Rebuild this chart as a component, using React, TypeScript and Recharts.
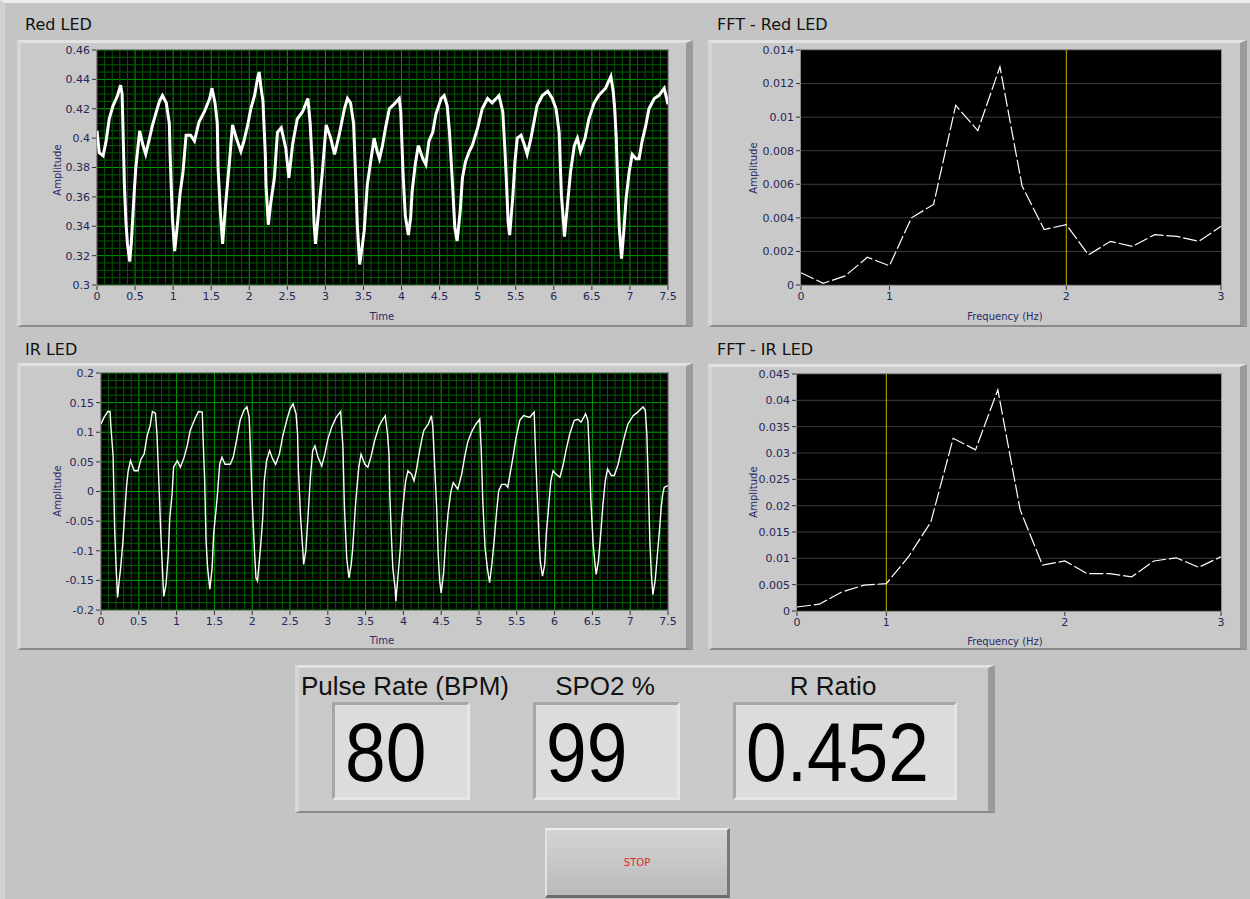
import React from 'react';
import { LineChart, Line, XAxis, YAxis, CartesianGrid, ReferenceLine } from 'recharts';

// ---- Red LED, time domain (s, amplitude) ----
const redTime = [0, 0.03, 0.08, 0.12, 0.16, 0.21, 0.27, 0.31, 0.33, 0.35, 0.36, 0.38, 0.4, 0.43, 0.45, 0.47, 0.49, 0.51, 0.56, 0.6, 0.64, 0.69, 0.73, 0.78, 0.82, 0.86, 0.91, 0.95, 0.96, 0.99, 1.02, 1.06, 1.09, 1.13, 1.17, 1.23, 1.28, 1.34, 1.41, 1.48, 1.51, 1.55, 1.58, 1.59, 1.62, 1.65, 1.69, 1.74, 1.78, 1.83, 1.89, 1.93, 1.98, 2.02, 2.07, 2.11, 2.13, 2.15, 2.18, 2.21, 2.22, 2.25, 2.28, 2.33, 2.37, 2.42, 2.48, 2.52, 2.57, 2.63, 2.7, 2.77, 2.8, 2.83, 2.85, 2.87, 2.92, 2.96, 3.01, 3.07, 3.12, 3.18, 3.25, 3.29, 3.33, 3.37, 3.4, 3.42, 3.45, 3.48, 3.51, 3.55, 3.6, 3.64, 3.68, 3.71, 3.75, 3.79, 3.84, 3.9, 3.97, 3.99, 4.01, 4.02, 4.05, 4.09, 4.12, 4.14, 4.18, 4.22, 4.28, 4.32, 4.36, 4.41, 4.45, 4.52, 4.56, 4.6, 4.63, 4.67, 4.7, 4.73, 4.77, 4.8, 4.84, 4.89, 4.93, 5.0, 5.06, 5.13, 5.19, 5.28, 5.33, 5.36, 5.38, 5.4, 5.42, 5.46, 5.49, 5.52, 5.57, 5.61, 5.65, 5.7, 5.74, 5.78, 5.85, 5.92, 5.98, 6.03, 6.07, 6.1, 6.13, 6.14, 6.18, 6.22, 6.27, 6.31, 6.35, 6.41, 6.46, 6.53, 6.59, 6.68, 6.75, 6.78, 6.8, 6.82, 6.84, 6.86, 6.89, 6.92, 6.95, 6.99, 7.03, 7.08, 7.12, 7.16, 7.21, 7.25, 7.32, 7.38, 7.45, 7.5];
const redAmp = [0.405, 0.39, 0.388, 0.398, 0.413, 0.422, 0.429, 0.436, 0.43, 0.389, 0.368, 0.343, 0.328, 0.316, 0.328, 0.346, 0.364, 0.38, 0.405, 0.396, 0.389, 0.4, 0.409, 0.418, 0.425, 0.429, 0.424, 0.41, 0.389, 0.346, 0.323, 0.343, 0.362, 0.377, 0.402, 0.402, 0.398, 0.411, 0.418, 0.427, 0.434, 0.424, 0.41, 0.38, 0.35, 0.328, 0.355, 0.384, 0.409, 0.4, 0.391, 0.398, 0.409, 0.42, 0.429, 0.441, 0.445, 0.436, 0.425, 0.39, 0.368, 0.341, 0.355, 0.373, 0.404, 0.407, 0.393, 0.373, 0.396, 0.413, 0.418, 0.427, 0.41, 0.38, 0.343, 0.328, 0.355, 0.377, 0.409, 0.4, 0.389, 0.402, 0.42, 0.427, 0.424, 0.41, 0.37, 0.34, 0.314, 0.325, 0.337, 0.368, 0.386, 0.4, 0.391, 0.386, 0.395, 0.407, 0.42, 0.423, 0.427, 0.418, 0.39, 0.376, 0.347, 0.334, 0.346, 0.364, 0.382, 0.395, 0.386, 0.382, 0.398, 0.404, 0.416, 0.427, 0.429, 0.422, 0.404, 0.368, 0.339, 0.33, 0.35, 0.373, 0.384, 0.391, 0.395, 0.407, 0.42, 0.427, 0.424, 0.429, 0.418, 0.39, 0.368, 0.343, 0.334, 0.359, 0.384, 0.4, 0.402, 0.396, 0.389, 0.4, 0.411, 0.422, 0.429, 0.432, 0.427, 0.42, 0.404, 0.361, 0.341, 0.333, 0.355, 0.377, 0.395, 0.4, 0.391, 0.4, 0.413, 0.424, 0.429, 0.434, 0.442, 0.432, 0.42, 0.4, 0.368, 0.339, 0.318, 0.337, 0.359, 0.377, 0.389, 0.386, 0.386, 0.398, 0.409, 0.42, 0.427, 0.429, 0.434, 0.423];
const redYTicks = [0.3, 0.32, 0.34, 0.36, 0.38, 0.4, 0.42, 0.44, 0.46];

// ---- IR LED, time domain ----
const irTime = [0, 0.04, 0.09, 0.12, 0.13, 0.16, 0.18, 0.2, 0.22, 0.24, 0.26, 0.29, 0.31, 0.34, 0.36, 0.39, 0.44, 0.49, 0.53, 0.57, 0.61, 0.65, 0.68, 0.72, 0.74, 0.77, 0.79, 0.82, 0.83, 0.86, 0.89, 0.91, 0.94, 0.96, 1.01, 1.05, 1.1, 1.14, 1.18, 1.25, 1.29, 1.34, 1.35, 1.37, 1.39, 1.41, 1.44, 1.47, 1.49, 1.52, 1.54, 1.57, 1.6, 1.64, 1.71, 1.75, 1.8, 1.84, 1.89, 1.93, 1.96, 1.98, 2.0, 2.03, 2.05, 2.07, 2.11, 2.14, 2.16, 2.19, 2.23, 2.27, 2.31, 2.36, 2.4, 2.46, 2.5, 2.54, 2.58, 2.6, 2.61, 2.64, 2.67, 2.68, 2.71, 2.74, 2.77, 2.8, 2.83, 2.87, 2.92, 2.96, 3.0, 3.05, 3.11, 3.17, 3.2, 3.22, 3.25, 3.28, 3.31, 3.33, 3.37, 3.41, 3.44, 3.49, 3.53, 3.57, 3.62, 3.68, 3.72, 3.76, 3.79, 3.81, 3.82, 3.84, 3.86, 3.89, 3.9, 3.93, 3.96, 3.98, 4.01, 4.03, 4.06, 4.11, 4.14, 4.17, 4.2, 4.24, 4.27, 4.33, 4.37, 4.39, 4.41, 4.44, 4.46, 4.48, 4.5, 4.53, 4.56, 4.59, 4.63, 4.66, 4.72, 4.77, 4.81, 4.85, 4.9, 4.96, 5.01, 5.03, 5.05, 5.08, 5.11, 5.14, 5.17, 5.2, 5.23, 5.26, 5.3, 5.35, 5.38, 5.41, 5.45, 5.49, 5.54, 5.59, 5.67, 5.73, 5.75, 5.77, 5.79, 5.81, 5.84, 5.87, 5.89, 5.92, 5.95, 5.98, 6.02, 6.07, 6.11, 6.15, 6.2, 6.26, 6.31, 6.35, 6.41, 6.44, 6.46, 6.48, 6.51, 6.53, 6.55, 6.58, 6.61, 6.64, 6.67, 6.7, 6.75, 6.79, 6.84, 6.88, 6.92, 6.97, 7.04, 7.1, 7.17, 7.2, 7.22, 7.24, 7.26, 7.28, 7.3, 7.33, 7.36, 7.39, 7.41, 7.43, 7.45, 7.5];
const irAmp = [0.114, 0.125, 0.135, 0.135, 0.111, 0.06, -0.061, -0.129, -0.179, -0.151, -0.129, -0.084, -0.044, 0.012, 0.035, 0.052, 0.035, 0.035, 0.055, 0.063, 0.094, 0.111, 0.135, 0.132, 0.097, 0.001, -0.067, -0.151, -0.177, -0.157, -0.106, -0.044, -0.005, 0.041, 0.052, 0.041, 0.058, 0.077, 0.103, 0.125, 0.135, 0.134, 0.091, 0.024, -0.084, -0.129, -0.165, -0.129, -0.072, -0.033, -0.005, 0.046, 0.058, 0.046, 0.046, 0.058, 0.091, 0.12, 0.137, 0.143, 0.125, 0.058, -0.016, -0.1, -0.146, -0.151, -0.095, -0.044, 0.018, 0.052, 0.069, 0.055, 0.046, 0.063, 0.091, 0.122, 0.139, 0.148, 0.131, 0.097, 0.041, -0.044, -0.1, -0.123, -0.1, -0.038, 0.024, 0.069, 0.077, 0.058, 0.043, 0.063, 0.088, 0.108, 0.125, 0.135, 0.074, -0.027, -0.112, -0.146, -0.123, -0.095, -0.016, 0.041, 0.063, 0.046, 0.041, 0.058, 0.086, 0.111, 0.12, 0.128, 0.097, 0.063, -0.005, -0.072, -0.129, -0.163, -0.185, -0.14, -0.095, -0.044, -0.005, 0.018, 0.035, 0.029, 0.018, 0.035, 0.058, 0.086, 0.103, 0.114, 0.128, 0.108, 0.052, -0.027, -0.106, -0.151, -0.171, -0.14, -0.084, -0.038, 0.001, 0.015, 0.004, 0.029, 0.058, 0.083, 0.1, 0.114, 0.122, 0.069, -0.016, -0.095, -0.129, -0.154, -0.123, -0.084, -0.038, 0.001, 0.012, 0.012, 0.007, 0.029, 0.058, 0.091, 0.12, 0.128, 0.125, 0.134, 0.058, -0.005, -0.067, -0.117, -0.143, -0.123, -0.072, -0.027, 0.018, 0.035, 0.029, 0.024, 0.043, 0.069, 0.097, 0.12, 0.122, 0.117, 0.131, 0.12, 0.063, -0.016, -0.089, -0.117, -0.14, -0.117, -0.072, -0.021, 0.018, 0.038, 0.027, 0.027, 0.046, 0.069, 0.091, 0.114, 0.128, 0.134, 0.143, 0.137, 0.097, 0.012, -0.084, -0.14, -0.174, -0.151, -0.106, -0.061, -0.027, -0.005, 0.007, 0.01];
const irYTicks = [-0.2, -0.15, -0.1, -0.05, 0, 0.05, 0.1, 0.15, 0.2];

const timeTicks = [0, 0.5, 1, 1.5, 2, 2.5, 3, 3.5, 4, 4.5, 5, 5.5, 6, 6.5, 7, 7.5];

// ---- FFT spectra (20 bins) ----
const fftFreq = [0, 0.158, 0.316, 0.474, 0.632, 0.789, 0.947, 1.105, 1.263, 1.421, 1.579, 1.737, 1.895, 2.053, 2.211, 2.368, 2.526, 2.684, 2.842, 3.0];
const fftRedAmp = [0.00073, 0.0001, 0.00054, 0.00165, 0.00115, 0.004, 0.0048, 0.0107, 0.0092, 0.013, 0.0059, 0.0033, 0.0036, 0.0018, 0.0026, 0.0023, 0.003, 0.0029, 0.0026, 0.0035];
const fftIrAmp = [0.00076, 0.0013, 0.0036, 0.0049, 0.0052, 0.0103, 0.0169, 0.0328, 0.0306, 0.042, 0.0192, 0.0087, 0.0095, 0.0071, 0.0071, 0.0065, 0.0095, 0.0101, 0.0083, 0.0103];
const fftRedYTicks = [0, 0.002, 0.004, 0.006, 0.008, 0.01, 0.012, 0.014];
const fftIrYTicks = [0, 0.005, 0.01, 0.015, 0.02, 0.025, 0.03, 0.035, 0.04, 0.045];
const fftTickPos = [0, 0.632, 1.895, 3];
const fftTickLabels = ['0', '1', '2', '3'];
const redCursor = 1.895;
const irCursor = 0.632;

const readoutLabels = ['Pulse Rate (BPM)', 'SPO2 %', 'R Ratio'];
const readoutValues = ['80', '99', '0.452'];

const TICK = { fill: '#26265a', fontSize: 11, fontFamily: 'DejaVu Sans' };
const Y_W = 60;
const X_H = 24;

function minorSteps(lo: number, hi: number, step: number, every: number) {
  const out: number[] = [];
  const n = Math.round((hi - lo) / step);
  for (let i = 1; i < n; i++) if (i % every !== 0) out.push(+(lo + i * step).toFixed(6));
  return out;
}

type Box = { left: number; top: number; width: number; height: number };
type Plot = { x0: number; y0: number; x1: number; y1: number };

function marginsFor(box: Box, plot: Plot) {
  return {
    top: plot.y0 - box.top,
    right: box.left + box.width - plot.x1,
    left: plot.x0 - box.left - Y_W,
    bottom: box.top + box.height - plot.y1 - X_H,
  };
}

function Frame({ box }: { box: Box }) {
  return (
    <div
      style={{
        position: 'absolute', left: box.left, top: box.top, width: box.width, height: box.height,
        boxSizing: 'border-box', background: '#c9c9c9',
        borderTop: '3px solid #e2e2e2', borderLeft: '4px solid #d6d6d6',
        borderRight: '7px solid #9a9a9a', borderBottom: '2px solid #8a8a8a',
      }}
    />
  );
}

function PlotBorder({ plot }: { plot: Plot }) {
  return (
    <div
      style={{
        position: 'absolute', left: plot.x0 - 1, top: plot.y0 - 1,
        width: plot.x1 - plot.x0, height: plot.y1 - plot.y0,
        border: '1px solid #8e8e8e', pointerEvents: 'none',
      }}
    />
  );
}

function AxisTitle({ text, cx, cy, rotate }: { text: string; cx: number; cy: number; rotate?: boolean }) {
  return (
    <div
      style={{
        position: 'absolute', left: cx, top: cy, whiteSpace: 'nowrap',
        transform: `translate(-50%, -50%)${rotate ? ' rotate(-90deg)' : ''}`,
        fontSize: 10, color: '#2a2a66', fontFamily: 'DejaVu Sans',
      }}
    >
      {text}
    </div>
  );
}

function TimeScope({ box, plot, time, amp, yTicks, minorY, width }: {
  box: Box; plot: Plot; time: number[]; amp: number[]; yTicks: number[]; minorY: number[]; width: number;
}) {
  const data = time.map((t, i) => ({ t, v: amp[i] }));
  const minorX = minorSteps(0, 7.5, 0.1, 5);
  const yDomain = [yTicks[0], yTicks[yTicks.length - 1]];
  return (
    <div style={{ position: 'absolute', left: box.left, top: box.top }}>
      <LineChart width={box.width} height={box.height} data={data} margin={marginsFor(box, plot)}>
        <CartesianGrid stroke="#00a000" fill="#000000" fillOpacity={1} />
        {minorX.map((x) => (
          <ReferenceLine key={'x' + x} x={x} stroke="#005c00" strokeWidth={1} />
        ))}
        {minorY.map((y) => (
          <ReferenceLine key={'y' + y} y={y} stroke="#005c00" strokeWidth={1} />
        ))}
        <XAxis
          dataKey="t" type="number" domain={[0, 7.5]} ticks={timeTicks} interval={0}
          height={X_H} axisLine={false} tickSize={5} tickLine={{ stroke: '#333' }}
          tick={TICK} tickFormatter={(v) => String(v)} allowDataOverflow
        />
        <YAxis
          type="number" domain={yDomain} ticks={yTicks} interval={0} width={Y_W}
          axisLine={false} tickSize={5} tickLine={{ stroke: '#333' }}
          tick={TICK} tickFormatter={(v) => String(v)} allowDataOverflow
        />
        <Line
          type="linear" dataKey="v" stroke="#ffffff" strokeWidth={width}
          dot={false} isAnimationActive={false}
        />
      </LineChart>
    </div>
  );
}

function FftScope({ box, plot, amp, yTicks, cursor }: {
  box: Box; plot: Plot; amp: number[]; yTicks: number[]; cursor: number;
}) {
  const data = fftFreq.map((f, i) => ({ f, a: amp[i] }));
  const yDomain = [yTicks[0], yTicks[yTicks.length - 1]];
  return (
    <div style={{ position: 'absolute', left: box.left, top: box.top }}>
      <LineChart width={box.width} height={box.height} data={data} margin={marginsFor(box, plot)}>
        <CartesianGrid stroke="#3c3c3c" fill="#000000" fillOpacity={1} vertical={false} />
        <XAxis
          dataKey="f" type="number" domain={[0, 3]} ticks={fftTickPos} interval={0}
          height={X_H} axisLine={false} tickSize={5} tickLine={{ stroke: '#333' }}
          tick={TICK} tickFormatter={(v) => fftTickLabels[fftTickPos.indexOf(v)] ?? ''}
        />
        <YAxis
          type="number" domain={yDomain} ticks={yTicks} interval={0} width={Y_W}
          axisLine={false} tickSize={5} tickLine={{ stroke: '#333' }}
          tick={TICK} tickFormatter={(v) => String(v)}
        />
        <ReferenceLine x={cursor} stroke="#c8b400" strokeWidth={1} />
        <Line
          type="linear" dataKey="a" stroke="#ffffff" strokeWidth={1.2} strokeDasharray="14 3"
          dot={false} isAnimationActive={false}
        />
      </LineChart>
    </div>
  );
}

const title: React.CSSProperties = {
  position: 'absolute', fontSize: 16, lineHeight: '20px', color: '#111', fontFamily: 'DejaVu Sans',
};

export default function App() {
  const redBox = { left: 17, top: 40, width: 676, height: 287 };
  const redPlot = { x0: 97, y0: 50, x1: 668, y1: 285 };
  const fftRedBox = { left: 708, top: 40, width: 539, height: 287 };
  const fftRedPlot = { x0: 801, y0: 50, x1: 1221, y1: 285 };
  const irBox = { left: 17, top: 363, width: 676, height: 287 };
  const irPlot = { x0: 101, y0: 373, x1: 668, y1: 610 };
  const fftIrBox = { left: 708, top: 364, width: 539, height: 286 };
  const fftIrPlot = { x0: 797, y0: 374, x1: 1221, y1: 611 };

  const boxX = [332, 533, 733];
  const boxW = [138, 147, 224];
  const labelCx = [405, 605, 833];

  return (
    <div
      style={{
        position: 'absolute', left: 0, top: 0, width: 1250, height: 899, overflow: 'hidden',
        background: '#c4c4c4', boxSizing: 'border-box',
        borderTop: '3px solid #ececec', borderLeft: '5px solid #d2d2d2',
        fontFamily: 'DejaVu Sans, sans-serif',
      }}
    >
      <div style={{ position: 'absolute', left: -5, top: -3, width: 1250, height: 899 }}>
        <div style={{ ...title, left: 25, top: 15 }}>Red LED</div>
        <div style={{ ...title, left: 717, top: 15 }}>FFT - Red LED</div>
        <div style={{ ...title, left: 25, top: 340 }}>IR LED</div>
        <div style={{ ...title, left: 717, top: 340 }}>FFT - IR LED</div>

        <Frame box={redBox} />
        <Frame box={fftRedBox} />
        <Frame box={irBox} />
        <Frame box={fftIrBox} />

        <TimeScope box={redBox} plot={redPlot} time={redTime} amp={redAmp} yTicks={redYTicks}
          minorY={minorSteps(0.3, 0.46, 0.005, 4)} width={3} />
        <TimeScope box={irBox} plot={irPlot} time={irTime} amp={irAmp} yTicks={irYTicks}
          minorY={minorSteps(-0.2, 0.2, 0.0125, 4)} width={1.4} />
        <FftScope box={fftRedBox} plot={fftRedPlot} amp={fftRedAmp} yTicks={fftRedYTicks} cursor={redCursor} />
        <FftScope box={fftIrBox} plot={fftIrPlot} amp={fftIrAmp} yTicks={fftIrYTicks} cursor={irCursor} />

        <PlotBorder plot={redPlot} />
        <PlotBorder plot={fftRedPlot} />
        <PlotBorder plot={irPlot} />
        <PlotBorder plot={fftIrPlot} />

        <AxisTitle text="Amplitude" cx={57} cy={170} rotate />
        <AxisTitle text="Time" cx={382} cy={316} />
        <AxisTitle text="Amplitude" cx={753} cy={168} rotate />
        <AxisTitle text="Frequency (Hz)" cx={1005} cy={316} />
        <AxisTitle text="Amplitude" cx={57} cy={491} rotate />
        <AxisTitle text="Time" cx={382} cy={640} />
        <AxisTitle text="Amplitude" cx={753} cy={492} rotate />
        <AxisTitle text="Frequency (Hz)" cx={1005} cy={641} />

        {/* indicator cluster */}
        <Frame box={{ left: 295, top: 665, width: 700, height: 148 }} />
        {readoutLabels.map((lab, i) => (
          <div key={lab} style={{
            position: 'absolute', left: labelCx[i], top: 686, transform: 'translate(-50%, -50%)',
            fontSize: 26, fontFamily: 'Liberation Sans', color: '#111', whiteSpace: 'nowrap',
          }}>{lab}</div>
        ))}
        {readoutValues.map((val, i) => (
          <div key={i} style={{
            position: 'absolute', left: boxX[i], top: 702, width: boxW[i], height: 98,
            boxSizing: 'border-box', background: '#dcdbdd',
            borderTop: '3px solid #a6a6a6', borderLeft: '3px solid #a6a6a6',
            borderBottom: '3px solid #e6e6e6', borderRight: '3px solid #e6e6e6',
          }}>
            <div style={{
              position: 'absolute', left: 10, top: 2, fontSize: 84, lineHeight: '90px',
              fontFamily: 'Liberation Sans', color: '#000', transform: 'scaleX(0.87)',
              transformOrigin: 'left center', whiteSpace: 'nowrap',
            }}>{val}</div>
          </div>
        ))}

        {/* stop button */}
        <div style={{
          position: 'absolute', left: 545, top: 828, width: 185, height: 70, boxSizing: 'border-box',
          background: 'linear-gradient(#d4d4d4, #bababa)',
          borderTop: '2px solid #ececec', borderLeft: '2px solid #e2e2e2',
          borderRight: '3px solid #777', borderBottom: '3px solid #6c6c6c',
          display: 'flex', alignItems: 'center', justifyContent: 'center',
          color: '#e02828', fontSize: 10, fontFamily: 'DejaVu Sans',
        }}>STOP</div>
      </div>
    </div>
  );
}
